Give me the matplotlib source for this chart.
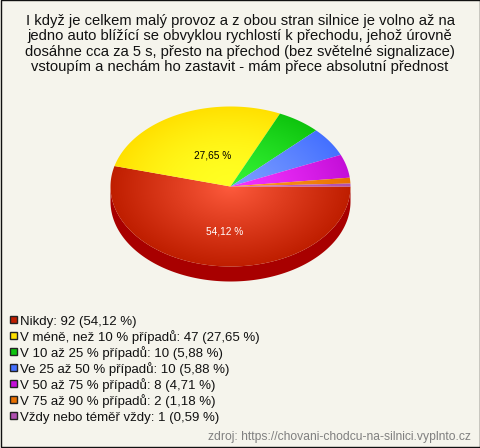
import numpy as np
import matplotlib
matplotlib.use("Agg")
import matplotlib.pyplot as plt
from matplotlib.patches import Polygon, Rectangle
from matplotlib.colors import LinearSegmentedColormap

plt.rcParams['font.family'] = ['Liberation Sans', 'DejaVu Sans']

title_lines = ["I když je celkem malý provoz a z obou stran silnice je volno až na",
               "jedno auto blížící se obvyklou rychlostí k přechodu, jehož úrovně",
               "dosáhne cca za 5 s, přesto na přechod (bez světelné signalizace)",
               "vstoupím a nechám ho zastavit - mám přece absolutní přednost"]
categories = ["Nikdy", "V méně, než 10 % případů", "V 10 až 25 % případů", "Ve 25 až 50 % případů",
              "V 50 až 75 % případů", "V 75 až 90 % případů", "Vždy nebo téměř vždy"]
counts = [92, 47, 10, 10, 8, 2, 1]
shares = ["54,12", "27,65", "5,88", "5,88", "4,71", "1,18", "0,59"]
edge_colors = ["#bf1e00", "#ffe000", "#0ec40e", "#4470ff", "#c40fd8", "#e87000", "#b050b0"]
center_colors = ["#ff5c3e", "#ffff22", "#33f233", "#7a9cff", "#f433ff", "#ff9a20", "#c868c8"]
gammas = [0.9, 1.8, 1.3, 1.3, 1.3, 1.3, 1.3]
source = "zdroj: https://chovani-chodcu-na-silnici.vyplnto.cz"

W, H = 480, 448
BG = "#f5f4ec"
fig = plt.figure(figsize=(W/100, H/100), dpi=100, facecolor=BG)
ax = fig.add_axes([0, 0, 1, 1])
ax.set_xlim(0, W); ax.set_ylim(H, 0); ax.axis("off")
ax.add_patch(Rectangle((0.5, 0.5), W-1, H-1, fc="none", ec="#101010", lw=1, zorder=5))

for i, line in enumerate(title_lines):
    ax.text(240, 25+15.4*i, line, ha="center", va="baseline", fontsize=10.65, color="#111111")

cx, cy, rx, ry, depth = 230.5, 186.5, 120, 80, 15
total = sum(counts)

# side wall
t = np.linspace(0, np.pi, 200)
side = np.r_[np.c_[cx+rx*np.cos(t), cy+depth+ry*np.sin(t)], np.c_[cx+rx*np.cos(t[::-1]), cy+ry*np.sin(t[::-1])]]
ax.add_patch(Polygon(side, fc="#a80000", ec="none", zorder=1))

yy, xx = np.mgrid[0:H*2, 0:W*2]
u = ((xx+.5)/2-cx)/rx; v = ((yy+.5)/2-cy)/ry
rad = np.clip(np.hypot(u, v), 0, 1)

# screen angle runs clockwise from east; the first slice starts at east
a0 = 0.0
for val, ce, cc, g in zip(counts, edge_colors, center_colors, gammas):
    a1 = a0 + val/total*2*np.pi
    t = np.linspace(a0, a1, max(3, int((a1-a0)*60)))
    poly = Polygon(np.r_[[[cx, cy]], np.c_[cx+rx*np.cos(t), cy+ry*np.sin(t)]], transform=ax.transData, fc="none", ec="none")
    ax.add_patch(poly)
    cmap = LinearSegmentedColormap.from_list("g", [cc, ce])
    im = ax.imshow(rad**g, cmap=cmap, vmin=0, vmax=1, extent=(0, W, H, 0), zorder=2, interpolation="bilinear", aspect="auto")
    im.set_clip_path(poly)
    a0 = a1
ax.set_xlim(0, W); ax.set_ylim(H, 0)

ax.text(212.5, 158, shares[1]+" %", ha="center", va="baseline", fontsize=7.3, color="black", zorder=3)
ax.text(224.5, 234, shares[0]+" %", ha="center", va="baseline", fontsize=7.3, color="white", zorder=3)

for i, (c, n, s, col) in enumerate(zip(categories, counts, shares, edge_colors)):
    y = 320+16*i
    ax.add_patch(Rectangle((9.5, y-3.5), 7, 7, fc=col, ec="#222222", lw=1, zorder=3))
    ax.text(20, y+5, f"{c}: {n} ({s} %)", ha="left", va="baseline", fontsize=9.5, color="#111111")

ax.text(470.5, 440, source, ha="right", va="baseline", fontsize=8.7, color="#808080")
fig.savefig("out.png", dpi=100, facecolor=BG)
